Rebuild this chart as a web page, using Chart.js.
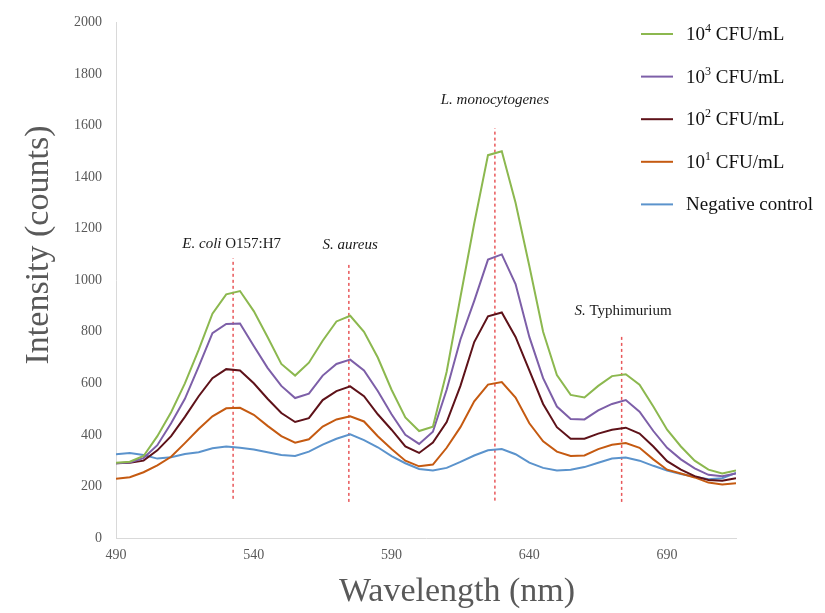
<!DOCTYPE html>
<html>
<head>
<meta charset="utf-8">
<title>Intensity spectra</title>
<script src="https://cdn.jsdelivr.net/npm/chart.js@4.4.0/dist/chart.umd.min.js"></script>
<style>
  body { margin: 0; background: #fff; }
  #wrap { width: 825px; height: 613px; }
</style>
</head>
<body>
<div id="wrap"><canvas id="specChart" width="825" height="613"></canvas></div>
<script>
// wavelength grid (nm), read every 5 nm off the picture
const wavelength = [490,495,500,505,510,515,520,525,530,535,540,545,550,555,560,565,570,575,580,585,
  590,595,600,605,610,615,620,625,630,635,640,645,650,655,660,665,670,675,680,685,690,695,700,705,710,715];

const cfu4 = [292,296,318,395,488,600,730,870,945,958,880,780,675,630,680,765,840,862,800,700,
  575,468,415,432,645,935,1220,1485,1500,1300,1055,800,632,555,545,590,628,635,595,510,420,355,300,265,250,262];
const cfu3 = [290,293,310,360,445,540,665,795,830,832,745,660,590,543,560,630,675,692,650,570,
  480,400,365,412,575,770,920,1080,1100,985,780,620,510,462,460,495,520,535,490,415,350,305,270,245,240,250];
const cfu2 = [290,292,300,340,395,470,550,620,655,650,600,540,485,450,465,535,570,588,550,480,
  420,355,330,370,450,590,760,860,875,780,650,520,430,385,385,405,420,428,405,355,298,265,240,225,222,232];
const cfu1 = [230,236,255,282,315,368,423,472,503,505,478,435,395,370,383,432,460,472,452,395,
  345,300,278,285,350,430,530,595,605,545,445,375,335,318,320,345,362,368,350,305,265,250,235,215,208,212];
const negative = [325,330,322,308,313,326,333,348,355,350,343,333,322,318,335,362,385,402,380,352,
  318,290,268,262,272,295,320,340,345,325,292,272,262,265,275,292,308,312,300,280,262,248,238,228,232,252];

const seriesNames = ['CFU/mL', 'CFU/mL', 'CFU/mL', 'CFU/mL', 'Negative control'];
const seriesPowers = ['4', '3', '2', '1', null];
const seriesColors = ['#8cb84f', '#7d5fa8', '#5e1219', '#c55a11', '#5b93cc'];

const xTicks = [490, 540, 590, 640, 690];

// dashed peak markers and their labels
const markerX = [532.5, 574.5, 627.5, 673.5];
const markerTop = [1085, 1065, 1590, 790];
const markerBottom = [152, 140, 145, 140];
const peakLabels = [
  [['E. coli', true], [' O157:H7', false]],
  [['S. aureus', true]],
  [['L. monocytogenes', true]],
  [['S.', true], [' Typhimurium', false]]
];
const peakLabelX = [532, 575, 627.5, 674];
const peakLabelY = [1142, 1135, 1700, 880];

const serif = '"Liberation Serif", "Times New Roman", serif';

function partFont(part, size) {
  const s = part[2] ? Math.round(size * 0.62) : size;
  return (part[1] ? 'italic ' : '') + s + 'px ' + serif;
}

function drawParts(ctx, parts, x, y, size, center) {
  let w = 0;
  parts.forEach(p => { ctx.font = partFont(p, size); w += ctx.measureText(p[0]).width; });
  let cx = center ? x - w / 2 : x;
  parts.forEach(p => {
    ctx.font = partFont(p, size);
    ctx.fillText(p[0], cx, p[2] ? y - size * 0.32 : y);
    cx += ctx.measureText(p[0]).width;
  });
}

const textPlugin = {
  id: 'textPlugin',
  afterDraw(chart) {
    const { ctx, scales: { x, y } } = chart;
    ctx.save();
    ctx.textBaseline = 'middle';
    ctx.textAlign = 'left';

    // peak names
    ctx.fillStyle = '#1a1a1a';
    peakLabels.forEach((parts, i) => {
      drawParts(ctx, parts, x.getPixelForValue(peakLabelX[i]), y.getPixelForValue(peakLabelY[i]), 15, true);
    });

    // legend
    seriesNames.forEach((name, i) => {
      const ly = 34 + i * 42.6;
      ctx.strokeStyle = seriesColors[i];
      ctx.lineWidth = 2;
      ctx.beginPath();
      ctx.moveTo(641, ly);
      ctx.lineTo(673, ly);
      ctx.stroke();
      ctx.fillStyle = '#111';
      const parts = seriesPowers[i] ? [['10', false], [seriesPowers[i], false, true], [' ' + name, false]] : [[name, false]];
      drawParts(ctx, parts, 686, ly + 1, 19, false);
    });

    // axis titles
    ctx.fillStyle = '#595959';
    ctx.font = '34px ' + serif;
    ctx.textAlign = 'center';
    ctx.fillText('Wavelength (nm)', 457, 592);
    ctx.translate(39, 245);
    ctx.rotate(-Math.PI / 2);
    ctx.fillText('Intensity (counts)', 0, 0);
    ctx.restore();
  }
};

function makeSeries(i, values) {
  return {
    label: seriesPowers[i] ? '10^' + seriesPowers[i] + ' ' + seriesNames[i] : seriesNames[i],
    data: values.map((v, k) => ({ x: wavelength[k], y: v })),
    borderColor: seriesColors[i],
    borderWidth: 2,
    pointRadius: 0,
    fill: false,
    tension: 0
  };
}

const datasets = [cfu4, cfu3, cfu2, cfu1, negative].map((vals, i) => makeSeries(i, vals));
markerX.forEach((mx, i) => {
  datasets.push({
    label: 'marker' + i,
    data: [{ x: mx, y: markerBottom[i] }, { x: mx, y: markerTop[i] }],
    borderColor: '#e8575a',
    borderWidth: 1.5,
    borderDash: [3, 3],
    pointRadius: 0,
    fill: false
  });
});

const tickFont = { family: serif, size: 14 };

new Chart(document.getElementById('specChart').getContext('2d'), {
  type: 'line',
  data: { datasets },
  options: {
    responsive: false,
    animation: false,
    layout: { padding: { top: 18, right: 89, left: 0, bottom: 0 } },
    plugins: { legend: { display: false }, tooltip: { enabled: false } },
    scales: {
      x: {
        type: 'linear',
        min: 490,
        max: 715,
        afterBuildTicks: s => { s.ticks = xTicks.map(v => ({ value: v })); },
        afterFit: s => { s.height = 75; },
        grid: { display: false, drawTicks: false },
        border: { display: true, color: '#d9d9d9', width: 1 },
        ticks: { font: tickFont, color: '#595959', padding: 9, callback: v => String(v) }
      },
      y: {
        min: 0,
        max: 2000,
        afterFit: s => { s.width = 116; },
        grid: { display: false, drawTicks: false },
        border: { display: true, color: '#d9d9d9', width: 1 },
        ticks: { stepSize: 200, font: tickFont, color: '#595959', padding: 14, callback: v => String(v) }
      }
    }
  },
  plugins: [textPlugin]
});
</script>
</body>
</html>
